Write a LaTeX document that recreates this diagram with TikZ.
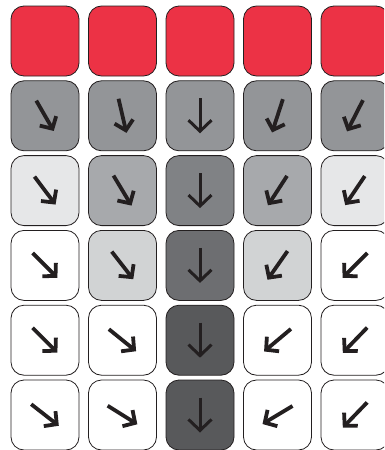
\documentclass[tikz,border=0pt]{standalone}
\usepackage{xcolor}
\usetikzlibrary{arrows.meta}
\definecolor{topred}{RGB}{236,50,69}
\definecolor{ink}{RGB}{35,31,32}
\definecolor{k10}{RGB}{230,231,232}
\definecolor{k20}{RGB}{209,211,212}
\definecolor{k40}{RGB}{167,169,172}
\definecolor{k50}{RGB}{147,149,152}
\definecolor{k60}{RGB}{128,130,133}
\definecolor{k70}{RGB}{109,110,113}
\definecolor{k80}{RGB}{88,89,91}

\begin{document}
\begin{tikzpicture}[
    x=1pt, y=-1pt,
    cell/.style={
        draw=ink,
        line width=0.8pt,
        rounded corners=13pt,
        fill=#1,
        minimum width=68pt,
        minimum height=70pt,
        inner sep=0pt
    },
    cell/.default=white,
    slantarrow/.style={-{Straight Barb[sharp, length=9pt, width=19pt]}, line width=3.8pt, draw=ink},
    downarrow/.style={-{Straight Barb[sharp, length=11pt, width=23pt]}, line width=3pt, draw=ink}
]
\useasboundingbox (0,0) rectangle (384,450);
\clip (0,0) rectangle (384,450);

% === Row 1: red cells ===
\foreach \c in {1,...,5}
    \node[cell=topred] (cell-1-\c) at ({77.5*\c-32.5}, 41) {};

% === Rows 2-6: shaded cells with arrows ===
\foreach \r/\cols in {
    2/{1/k50/30, 2/k50/13, 3/k50/0, 4/k50/-18, 5/k50/-27},
    3/{1/k10/37, 2/k40/31, 3/k60/0, 4/k40/-33, 5/k10/-34},
    4/{1/white/45, 2/k20/38, 3/k70/0, 4/k20/-35, 5/white/-45},
    5/{1/white/45, 2/white/51, 3/k80/0, 4/white/-50, 5/white/-44},
    6/{1/white/52, 2/white/58, 3/k80/0, 4/white/-59, 5/white/-44}} {
    \foreach \c/\f/\a in \cols {
        \node[cell=\f] (cell-\r-\c) at ({77.5*\c-32.5}, {41+74.8*(\r-1)}) {};
        \ifnum\c=3 \def\tip{downarrow}\else\def\tip{slantarrow}\fi
        \draw[\tip] ([shift={({-17.5*sin(\a)}, {-17.5*cos(\a)})}]cell-\r-\c.center)
            -- ([shift={({17.5*sin(\a)}, {17.5*cos(\a)})}]cell-\r-\c.center);
    }
}

\end{tikzpicture}
\end{document}
